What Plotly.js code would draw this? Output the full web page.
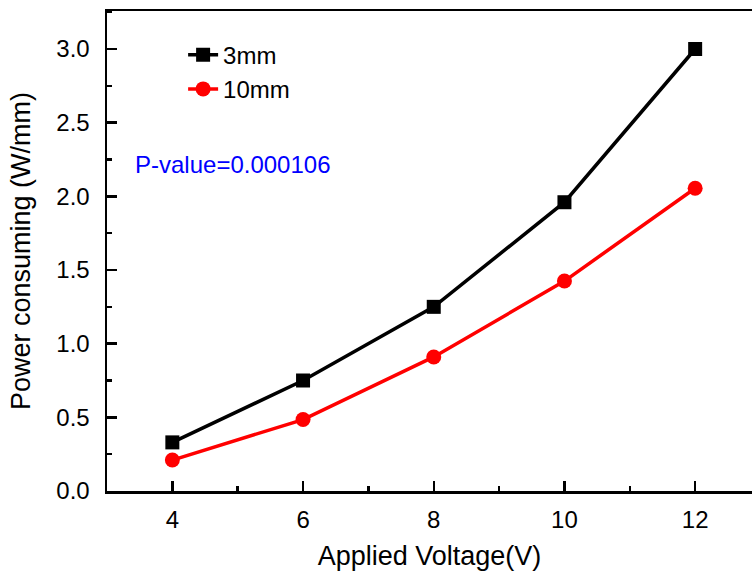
<!DOCTYPE html>
<html>
<head>
<meta charset="utf-8">
<script src="https://cdn.plot.ly/plotly-3.0.1.min.js"></script>
<style>html,body{margin:0;padding:0;background:#fff;overflow:hidden}</style>
</head>
<body>
<div id="chart" style="width:752px;height:575px"></div>
<script>
const voltage = [4, 6, 8, 10, 12];
const power3mm = [0.33, 0.75, 1.25, 1.96, 3.0];
const power10mm = [0.21, 0.485, 0.91, 1.425, 2.055];
const seriesNames = ["3mm", "10mm"];
const xTickVals = [4, 6, 8, 10, 12];
const yTickVals = [0.0, 0.5, 1.0, 1.5, 2.0, 2.5, 3.0];
const pValueText = "P-value=0.000106";

const FONT = "Liberation Sans, Arial, sans-serif";

const traces = [
  {
    x: voltage, y: power3mm, name: seriesNames[0], type: "scatter", mode: "lines+markers",
    line: {color: "#000000", width: 3.5},
    marker: {symbol: "square", size: 14, color: "#000000"}
  },
  {
    x: voltage, y: power10mm, name: seriesNames[1], type: "scatter", mode: "lines+markers",
    line: {color: "#ff0000", width: 3.5},
    marker: {symbol: "circle", size: 15, color: "#ff0000"}
  }
];

const layout = {
  width: 752, height: 575,
  margin: {l: 107, r: 0, t: 11, b: 84, pad: 0},
  paper_bgcolor: "#ffffff", plot_bgcolor: "#ffffff",
  font: {family: FONT, color: "#000000", size: 24},
  showlegend: true,
  legend: {
    x: 0.118, y: 0.955, xanchor: "left", yanchor: "top",
    bgcolor: "rgba(0,0,0,0)", borderwidth: 0,
    font: {family: FONT, size: 24, color: "#000000"},
    tracegroupgap: 0, itemwidth: 30
  },
  xaxis: {
    range: [3, 12.87], tickvals: xTickVals, ticktext: xTickVals.map(String),
    ticks: "inside", ticklen: 10, tickwidth: 2.5, tickcolor: "#000",
    minor: {dtick: 1, ticks: "inside", ticklen: 5, tickwidth: 2.5, tickcolor: "#000"},
    showline: true, linewidth: 2.5, linecolor: "#000", mirror: true,
    showgrid: false, zeroline: false,
    tickfont: {family: FONT, size: 24}, ticklabelstandoff: 6,
    title: {text: "Applied Voltage(V)", font: {family: FONT, size: 27}, standoff: 14}
  },
  yaxis: {
    range: [0, 3.258], tickvals: yTickVals, tickformat: ".1f",
    ticks: "inside", ticklen: 10, tickwidth: 2.5, tickcolor: "#000",
    minor: {dtick: 0.25, ticks: "inside", ticklen: 5, tickwidth: 2.5, tickcolor: "#000"},
    showline: true, linewidth: 2.5, linecolor: "#000", mirror: false,
    showgrid: false, zeroline: false,
    tickfont: {family: FONT, size: 24}, ticklabelstandoff: 10,
    title: {text: "Power consuming (W/mm)", font: {family: FONT, size: 27}, standoff: 18}
  },
  annotations: [{
    text: pValueText, xref: "paper", yref: "paper",
    x: 0.04, y: 0.68, xanchor: "left", yanchor: "middle", showarrow: false,
    font: {family: FONT, size: 24, color: "#0000ff"}
  }]
};

Plotly.newPlot("chart", traces, layout, {displayModeBar: false, staticPlot: true});
</script>
</body>
</html>
